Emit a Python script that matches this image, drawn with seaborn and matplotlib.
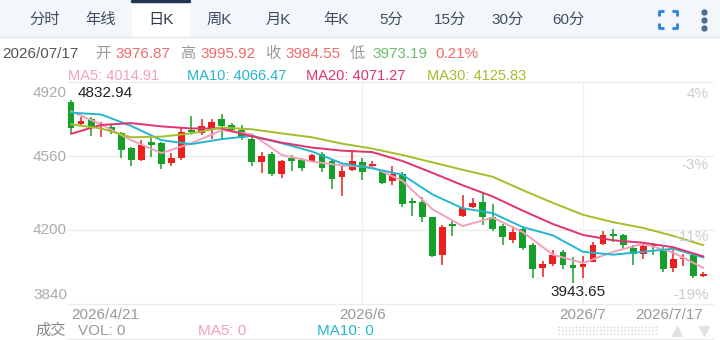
import matplotlib
matplotlib.use('AGG')
import matplotlib.pyplot as plt
from matplotlib.lines import Line2D
from matplotlib.patches import Rectangle
import seaborn as sns
import pandas as pd
import numpy as np

# daily candles 2026/4/21 .. 2026/7/17
opens = [4822, 4714, 4742, 4705, 4699, 4670, 4598, 4541, 4629, 4624,
         4525, 4552, 4685, 4672, 4685, 4741, 4709, 4685, 4645, 4532,
         4570, 4474, 4549, 4541, 4533, 4570, 4537, 4458, 4493, 4532,
         4509, 4485, 4437, 4474, 4341, 4336, 4261, 4077, 4229, 4269,
         4313, 4336, 4261, 4218, 4149, 4205, 4125, 4013, 4037, 4093,
         4032, 4021, 4045, 4133, 4181, 4176, 4112, 4085, 4125, 4109,
         4016, 4058, 4077, 3976.87]
highs = [4832.94, 4752, 4748, 4725, 4718, 4677, 4605, 4637, 4646, 4630,
         4576, 4696, 4757, 4742, 4741, 4762, 4720, 4709, 4653, 4581,
         4581, 4541, 4565, 4549, 4570, 4581, 4541, 4512, 4589, 4549,
         4536, 4489, 4512, 4480, 4357, 4361, 4265, 4224, 4249, 4368,
         4357, 4378, 4328, 4229, 4218, 4218, 4135, 4050, 4101, 4101,
         4069, 4074, 4144, 4197, 4205, 4181, 4125, 4130, 4138, 4115,
         4101, 4085, 4080, 3995.92]
lows = [4666, 4709, 4656, 4652, 4666, 4550, 4509, 4536, 4557, 4498,
        4512, 4541, 4670, 4661, 4645, 4637, 4677, 4637, 4509, 4477,
        4461, 4453, 4485, 4489, 4530, 4480, 4400, 4365, 4485, 4445,
        4501, 4424, 4421, 4313, 4269, 4240, 4068, 4029, 4170, 4261,
        4309, 4224, 4197, 4125, 4138, 4101, 3965, 3973, 4026, 4010,
        3943.65, 3968, 4042, 4125, 4141, 4101, 4029, 4061, 4080, 3997,
        3994, 4026, 3968, 3973.19]
closes = [4694, 4730, 4694, 4708, 4680, 4589, 4541, 4613, 4613, 4522,
          4550, 4677, 4675, 4705, 4725, 4705, 4685, 4648, 4532, 4561,
          4474, 4536, 4537, 4501, 4565, 4501, 4448, 4489, 4536, 4481,
          4520, 4428, 4474, 4328, 4333, 4264, 4074, 4213, 4221, 4309,
          4330, 4261, 4205, 4165, 4192, 4112, 4009, 4037, 4080, 4029,
          4016, 4037, 4128, 4176, 4170, 4125, 4085, 4122, 4120, 4009,
          4061, 4064, 3976.2, 3984.55]

# moving averages, read every third candle
ma_idx = list(range(0, 64, 3))
ma5 = [4777, 4714, 4637, 4574, 4622, 4685, 4666, 4565, 4533, 4514, 4506,
       4440, 4301, 4219, 4260, 4190, 4080, 4039, 4094, 4133, 4090, 4014.91]
ma10 = [4771, 4762, 4706, 4637, 4618, 4642, 4658, 4622, 4582, 4524, 4500,
        4469, 4373, 4306, 4282, 4214, 4174, 4094, 4080, 4094, 4109, 4066.47]
ma20 = [4668, 4711, 4720, 4704, 4694, 4694, 4656, 4625, 4601, 4586, 4579,
        4536, 4478, 4418, 4363, 4294, 4229, 4176, 4150, 4138, 4116, 4071.27]
ma30 = [4714, 4694, 4651, 4654, 4670, 4699, 4690, 4670, 4651, 4620, 4596,
        4565, 4529, 4493, 4459, 4394, 4332, 4274, 4238, 4210, 4171, 4125.83]

price_ticks = [4920, 4560, 4200, 3840]
pct_labels = ["4%", "-3%", "-11%", "-19%"]
date_pos = [0, 29, 51, 63]
date_labels = ["2026/4/21", "2026/6", "2026/7", "2026/7/17"]
tabs = ["分时", "年线", "日K", "周K", "月K", "年K", "5分", "15分", "30分", "60分"]

RED, GREEN = "#ec1f1f", "#15a02a"
MA_COLORS = {"MA5": "#f3a0bb", "MA10": "#25b6cf", "MA20": "#e3336d", "MA30": "#a2bf2b"}

sns.set_theme(style="white")
plt.rcParams['font.family'] = ['Liberation Sans', 'Noto Sans CJK SC', 'DejaVu Sans']

W, H = 720, 340
fig = plt.figure(figsize=(7.2, 3.4), dpi=100)


def fx(x):
    return x / W


def fy(y):
    return 1 - y / H


def fline(xs, ys, **kw):
    fig.add_artist(Line2D([fx(v) for v in xs], [fy(v) for v in ys],
                          transform=fig.transFigure, **kw))


# tab bar
fig.add_artist(Rectangle((0, fy(37)), 1, 37 / H, transform=fig.transFigure,
                         color="#f3f6fa", zorder=0))
fig.add_artist(Rectangle((fx(132), fy(37)), 57 / W, 37 / H, transform=fig.transFigure,
                         color="white", zorder=1))
fline([132, 189], [1, 1], color="#1f3553", lw=2.5)
fline([0, 720], [37, 37], color="#e2e6ec", lw=1)
tab_x = [45, 101, 161, 219, 278, 336, 391, 450, 508, 568]
for t, x in zip(tabs, tab_x):
    fig.text(fx(x), fy(20), t, ha="center", va="center", fontsize=11,
             color="#2c3a4b" if t == "日K" else "#3f4d5e")

# fullscreen icon + menu dots
ic = dict(color="#2f7fe0", lw=2, solid_capstyle="butt")
fline([659, 659, 664], [16, 11, 11], **ic)
fline([672, 677, 677], [11, 11, 16], **ic)
fline([659, 659, 664], [23, 28, 28], **ic)
fline([672, 677, 677], [28, 28, 23], **ic)
for y in (12, 20, 28):
    fline([704], [y], marker="o", ms=3.5, color="#4f6d93", lw=0)

# info line
info = [("2026/07/17", 2, "#555555"), ("开", 95, "#9a9a9a"), ("3976.87", 115, "#ee6b6b"),
        ("高", 180, "#9a9a9a"), ("3995.92", 200, "#ee6b6b"), ("收", 265, "#9a9a9a"),
        ("3984.55", 285, "#ee6b6b"), ("低", 350, "#9a9a9a"), ("3973.19", 372, "#6dbb6d"),
        ("0.21%", 435, "#ee6b6b")]
for t, x, c in info:
    fig.text(fx(x), fy(54), t, ha="left", va="center", fontsize=11, color=c)

ma_last = [("MA5: 4014.91", 68, "MA5"), ("MA10: 4066.47", 187, "MA10"),
           ("MA20: 4071.27", 306, "MA20"), ("MA30: 4125.83", 427, "MA30")]
for t, x, k in ma_last:
    fig.text(fx(x), fy(76), t, ha="left", va="center", fontsize=10.5, color=MA_COLORS[k])

# price panel
ax = fig.add_axes([fx(67), fy(304), (713 - 67) / W, (304 - 82) / H])
ax.set_xlim(-0.4, 63.95)
ax.set_ylim(3840, 4920)
for s in ax.spines.values():
    s.set_visible(False)

for v in price_ticks:
    ax.axhline(v, color="#ececec", lw=1, zorder=0, clip_on=False)
for p in date_pos[1:3]:
    ax.axvline(p, color="#f0f0f0", lw=1, zorder=0)

df = pd.DataFrame({"open": opens, "high": highs, "low": lows, "close": closes})
df["idx"] = np.arange(len(df))
df["color"] = np.where(df["close"] >= df["open"], RED, GREEN)
df["bottom"] = df[["open", "close"]].min(axis=1)
df["body"] = (df["close"] - df["open"]).abs().clip(lower=5)

ax.vlines(df["idx"], df["low"], df["high"], colors=df["color"], lw=1.1, zorder=2)
ax.bar(df["idx"], df["body"], bottom=df["bottom"], width=0.68,
       color=df["color"], linewidth=0, zorder=2)

ma = pd.DataFrame({
    "idx": ma_idx * 4,
    "value": ma5 + ma10 + ma20 + ma30,
    "line": ["MA5"] * len(ma5) + ["MA10"] * len(ma10) + ["MA20"] * len(ma20) + ["MA30"] * len(ma30),
})
sns.lineplot(data=ma, x="idx", y="value", hue="line", palette=MA_COLORS,
             estimator=None, legend=False, linewidth=1.4, ax=ax, zorder=3)
ax.set_xlabel("")
ax.set_ylabel("")

# axis labels
ax.set_yticks([])
ytr = ax.get_yaxis_transform()
for v, dy in zip(price_ticks, [-8, -0.5, 0, 6.5]):
    ax.annotate(str(v), xy=(0, v), xycoords=ytr, xytext=(0, dy), textcoords="offset points",
                ha="right", va="center", fontsize=11, color="#ababab", annotation_clip=False)
for v, t, dy in zip(price_ticks, pct_labels, [-8.5, -6.5, -5, 6.5]):
    ax.annotate(t, xy=(1, v), xycoords=ytr, xytext=(-3, dy), textcoords="offset points",
                ha="right", va="center", fontsize=11, color="#cdcdcd", annotation_clip=False)

ax.set_xticks(date_pos)
ax.set_xticklabels(date_labels)
ax.tick_params(axis="x", length=0, pad=3, labelsize=11, labelcolor="#999999")
xl = ax.get_xticklabels()
xl[0].set_ha("left")
xl[-1].set_ha("right")

# extreme labels
i_hi = int(np.argmax(highs))
i_lo = int(np.argmin(lows))
ax.annotate(f"{highs[i_hi]:.2f}", xy=(i_hi, highs[i_hi]), xytext=(4.5, 5),
            textcoords="offset points", ha="left", va="center", fontsize=11, color="#222222")
ax.annotate(f"{lows[i_lo]:.2f}", xy=(i_lo, lows[i_lo]), xytext=(3.5, -6.5),
            textcoords="offset points", ha="center", va="center", fontsize=11, color="#222222")

# volume header row
fig.text(fx(35), fy(331), "成交", ha="left", va="center", fontsize=11, color="#888888")
fig.text(fx(78), fy(331), "VOL: 0", ha="left", va="center", fontsize=11, color="#999999")
fig.text(fx(198), fy(331), "MA5: 0", ha="left", va="center", fontsize=11, color=MA_COLORS["MA5"])
fig.text(fx(317), fy(331), "MA10: 0", ha="left", va="center", fontsize=11, color=MA_COLORS["MA10"])
for y in (326.5, 330, 333.5):
    fline([558, 658], [y, y], color="#d2d2d2", lw=1, linestyle=(0, (1, 1.5)))
fline([677], [331], marker="^", ms=7, color="#e2e2e2", lw=0)
fline([704], [331], marker="v", ms=7, color="#e2e2e2", lw=0)
fline([67, 713], [338.5, 338.5], color="#ececec", lw=1)

fig.savefig("out.png", dpi=100)
